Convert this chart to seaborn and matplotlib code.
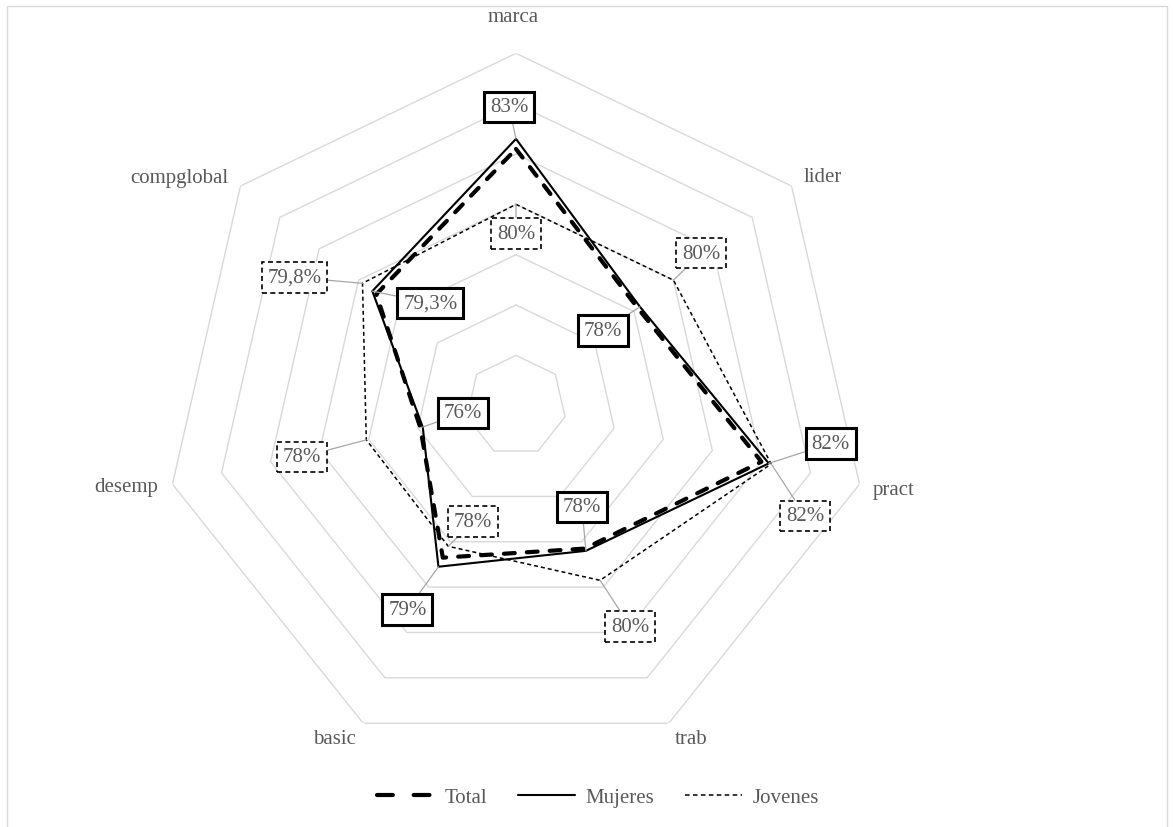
import numpy as np
import pandas as pd
import matplotlib
matplotlib.use("Agg")
import matplotlib.pyplot as plt
import seaborn as sns
from matplotlib.lines import Line2D
from matplotlib.patches import Rectangle

# ---------------- data ----------------
categories = ['marca', 'lider', 'pract', 'trab', 'basic', 'desemp', 'compglobal']
total = [82.2, 78.2, 82.0, 78.3, 78.7, 75.9, 79.1]
mujeres = [82.6, 78.3, 82.3, 78.4, 79.1, 75.8, 79.3]
jovenes = [80.0, 80.0, 82.4, 79.7, 78.2, 78.1, 79.8]
mujeres_labels = ['83%', '78%', '82%', '78%', '79%', '76%', '79,3%']
jovenes_labels = ['80%', '80%', '82%', '80%', '78%', '78%', '79,8%']
ring_values = [74, 76, 78, 80, 82, 84, 86]
r_min, r_max = 72, 86

# ---------------- layout (pixel offsets) ----------------
muj_offsets = [(-7, 32), (-37, -24), (62, 20), (-4, 44), (-31, -43), (40, 14), (58, -12)]
jov_offsets = [(0, -29), (28, 27), (34, -52), (30, -46), (25, 25), (-64, -17), (-68, 6)]
cat_offsets = [(-3, 37), (12, 9), (13, -5), (6, -15), (-7, -15), (-14, -2), (-12, 8)]
cat_ha = ['center', 'left', 'left', 'left', 'right', 'right', 'right']

sns.set_theme(style="white")
plt.rcParams['font.family'] = ['Liberation Serif', 'DejaVu Serif']

W, H = 1174, 828
fig = plt.figure(figsize=(W / 100, H / 100), dpi=100)
fig.patch.set_facecolor('white')

cx, cy, R = 516, 406.7, 352.4
ax = fig.add_axes([(cx - R) / W, (H - cy - R) / H, 2 * R / W, 2 * R / H], projection='polar')
ax.set_theta_offset(np.pi / 2)
ax.set_theta_direction(-1)
ax.set_facecolor('none')
ax.grid(False)
ax.spines['polar'].set_visible(False)

n = len(categories)
theta = np.arange(n) * 2 * np.pi / n
theta_c = np.append(theta, 2 * np.pi)

# grid heptagons
for v in ring_values:
    ax.plot(theta_c, [v] * (n + 1), color='#d9d9d9', lw=1.0, zorder=1)

def closed(vals):
    return np.append(np.array(vals, dtype=float), vals[0])

grey = '#595959'
# series
sns.lineplot(x=theta_c, y=closed(jovenes), ax=ax, color='black', linewidth=1.1,
             sort=False, estimator=None, linestyle=(0, (2.6, 2.0)), zorder=3)
sns.lineplot(x=theta_c, y=closed(mujeres), ax=ax, color='black', linewidth=1.5,
             sort=False, estimator=None, zorder=4)
sns.lineplot(x=theta_c, y=closed(total), ax=ax, color='black', linewidth=3.0,
             sort=False, estimator=None, linestyle=(0, (2.6, 2.9)),
             dash_capstyle='round', zorder=5)

ax.set_ylim(r_min, r_max)
ax.set_xticks([])
ax.set_yticks([])
ax.set_xlabel('')
ax.set_ylabel('')

fs = 15
# data labels
for i in range(n):
    ax.annotate(mujeres_labels[i], xy=(theta[i], mujeres[i]), xycoords='data',
                xytext=muj_offsets[i], textcoords='offset pixels',
                ha='center', va='center', fontsize=fs, color=grey, zorder=10,
                annotation_clip=False,
                bbox=dict(boxstyle='square,pad=0.28', fc='white', ec='black', lw=2.2),
                arrowprops=dict(arrowstyle='-', color='#a6a6a6', lw=0.9,
                                shrinkA=0, shrinkB=0))
    ax.annotate(jovenes_labels[i], xy=(theta[i], jovenes[i]), xycoords='data',
                xytext=jov_offsets[i], textcoords='offset pixels',
                ha='center', va='center', fontsize=fs, color=grey, zorder=10,
                annotation_clip=False,
                bbox=dict(boxstyle='square,pad=0.28', fc='white', ec='black', lw=1.2,
                          ls=(0, (3, 2))),
                arrowprops=dict(arrowstyle='-', color='#a6a6a6', lw=0.9,
                                shrinkA=0, shrinkB=0))

# category labels
for i in range(n):
    ax.annotate(categories[i], xy=(theta[i], r_max), xycoords='data',
                xytext=cat_offsets[i], textcoords='offset pixels',
                ha=cat_ha[i], va='center', fontsize=fs, color=grey,
                annotation_clip=False)

# legend
handles = [
    Line2D([], [], color='black', lw=3.0, linestyle=(0, (3.8, 5.0)), dash_capstyle='round'),
    Line2D([], [], color='black', lw=1.5),
    Line2D([], [], color='black', lw=1.1, linestyle=(0, (3.0, 2.2))),
]
leg = fig.legend(handles, ['Total', 'Mujeres', 'Jovenes'], loc='center',
                 bbox_to_anchor=(598 / W, 1 - 798 / H), ncol=3, frameon=False,
                 fontsize=fs, handlelength=2.75, handletextpad=0.5, columnspacing=1.45)
for t in leg.get_texts():
    t.set_color(grey)

# outer chart border
fig.add_artist(Rectangle((7 / W, -0.01), 1160 / W, (821 / H) + 0.01,
                         transform=fig.transFigure, fill=False, ec='#d9d9d9', lw=1.0))

fig.savefig('out.png', dpi=100, facecolor='white')
